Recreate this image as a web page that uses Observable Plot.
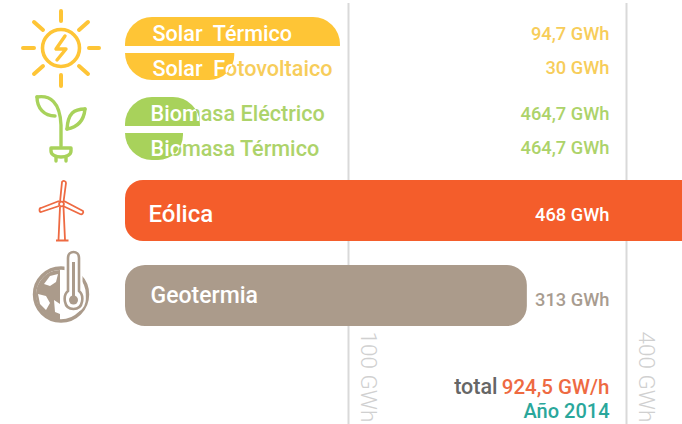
<!DOCTYPE html>
<html><head><meta charset="utf-8">
<script src="https://cdn.jsdelivr.net/npm/d3@7"></script>
<script src="https://cdn.jsdelivr.net/npm/@observablehq/plot@0.6"></script>
<style>html,body{margin:0;background:#fff}svg{display:block}</style>
</head><body><div id="c"></div><script>
const names = ["Solar  Térmico","Solar  Fotovoltaico","Biomasa Eléctrico","Biomasa Térmico","Eólica","Geotermia"];
const groups = ["solar","solar","bio","bio","eolica","geo"];
const valueLabels = ["94,7 GWh","30 GWh","464,7 GWh","464,7 GWh","468 GWh","313 GWh"];
// bar lengths as drawn in the picture, in GWh on the axis scale
const drawnGWh = [96.4,49,33.6,26,468,293];
const ticks = [100,400];
const tickLabels = ["100 GWh","400 GWh"];
const total = "924,5 GW/h";
const year = "Año 2014";

const rows = names.map((name,i)=>({i,name,group:groups[i],label:valueLabels[i],v:drawnGWh[i]}));
const barColor = {solar:"#fec536",bio:"#a8d25b",eolica:"#f45d2b",geo:"#ab9b8b"};
const labelColor = {solar:"#f7cd5a",bio:"#add36a",eolica:"#ffffff",geo:"#a89c90"};
const nameDx = {solar:27,bio:25};
const font = "Roboto, sans-serif";
const base = {x1:()=>0,x2:d=>d.v,y1:d=>d.i,y2:d=>d.i+0.5,fill:d=>d.group};
const pick = f=>rows.filter(f);

const icons = () => {
  const g = document.createElementNS("http://www.w3.org/2000/svg","g");
  g.innerHTML = `
  <g fill="none" stroke="#fec536" stroke-width="4" stroke-linecap="round">
    <circle cx="61" cy="48" r="18.5" stroke-width="3.6"/>
    <path d="M61 11V21M61 75V86M23 48H34M89 48H99M34 22L43 30M88 22L79 30M34 74L43 66M88 74L79 66"/>
    <path d="M65 36L56 49H66L57 60" stroke-width="3.4" stroke-linejoin="round"/>
  </g>
  <g fill="none" stroke="#a8d25b" stroke-width="3.4" stroke-linecap="round" stroke-linejoin="round">
    <path d="M37 97C50 95 60 102 61 125V146"/><path d="M37 97C37 108 44 116 55 116"/>
    <path d="M85 109C74 109 68 113 67 129"/><path d="M85 109C84 119 79 127 67 129"/>
    <path d="M51 148H71L71 151C71 155 66 157 61 157C56 157 51 155 51 151Z"/>
    <path d="M56 157V161M66 157V161"/>
  </g>
  <g fill="none" stroke="#ee6a42" stroke-width="1.8" stroke-linejoin="round">
    <path d="M60 202L62 182C63 180 66 181 66 183L63.5 202"/>
    <path d="M59 206L41 212C39 212 39 208 41 208L59 201"/>
    <path d="M64 201L83 211C84 213 82 215 80 214L63 206"/>
    <circle cx="61.5" cy="204" r="2.4"/>
    <path d="M60 207L58.5 240M63.5 207L65 240M56 240.5H68.5"/>
  </g>
  <g>
    <circle cx="61" cy="294.5" r="26.5" fill="none" stroke="#ab9b8b" stroke-width="3.4"/>
    <path d="M60 270C46 270 36 282 36 295C36 308 46 319 60 320Z" fill="#ab9b8b"/>
    <path d="M50 276L58 274L56 282L50 286L44 284ZM38 294L46 296L50 303L46 310L40 304ZM54 300L60 304L60 314L55 312Z" fill="#fff"/>
    <path d="M68 258C68 250 79 250 79 258V291C84 295 84 309 73.5 309C63 309 63 295 68 291Z" fill="#fff" stroke="#fff" stroke-width="7"/>
    <path d="M68 258C68 250 79 250 79 258V291C84 295 84 309 73.5 309C63 309 63 295 68 291Z" fill="#fff" stroke="#ab9b8b" stroke-width="2.6"/>
    <circle cx="73.5" cy="300" r="4.5" fill="#ab9b8b"/><path d="M73.5 262V298" stroke="#ab9b8b" stroke-width="3"/>
  </g>`;
  return g;
};

const nameText = (fill, subset) => subset.map(d=>Plot.text([d],{x:()=>0,y:r=>r.i+0.28,text:"name",textAnchor:"start",fill,dx:nameDx[d.group],fontSize:21.6,fontFamily:font,fontWeight:500}));
const stacked = pick(d=>d.i<4);

const chart = Plot.plot({
  width:682,height:424,margin:0,
  style:{background:"#fff",fontFamily:font},
  x:{type:"linear",domain:[0,100,400],range:[125,348,626],axis:null},
  y:{type:"linear",domain:[0,0.5,1,1.5,2,2.5,3,3.5,4,4.5,5,5.5],range:[17,46,53,80,97,126,133,160,180,241,265,326],axis:null},
  color:{domain:Object.keys(barColor),range:Object.values(barColor)},
  marks:[
    Plot.ruleX(ticks,{stroke:"#d9d9d9",strokeWidth:2,insetTop:3}),
    Plot.text(ticks.map((t,i)=>({t,s:tickLabels[i]})),{x:"t",text:"s",frameAnchor:"top",dy:331,dx:28,rotate:90,textAnchor:"start",fill:"#d0d0d0",fontSize:22.5,fontWeight:300,fontFamily:font}),
    ...nameText(d=>labelColor[d.group],stacked),
    Plot.rect(pick(d=>d.i===0||d.i===2),{...base,rx1y1:27,rx2y1:27}),
    Plot.rect(pick(d=>d.i===1||d.i===3),{...base,rx1y2:27,rx2y2:25}),
    Plot.rect(pick(d=>d.i===4),{...base,rx1y1:18,rx1y2:18}),
    Plot.rect(pick(d=>d.i===5),{...base,r:20}),
    ...nameText("#fff",stacked),
    Plot.text(pick(d=>d.i===4),{x:()=>0,y:d=>d.i+0.28,text:"name",textAnchor:"start",fill:"#fff",dx:23,fontSize:24,fontFamily:font,fontWeight:500}),
    Plot.text(pick(d=>d.i===5),{x:()=>0,y:d=>d.i+0.25,text:"name",textAnchor:"start",fill:"#fff",dx:25,fontSize:23,fontFamily:font,fontWeight:500}),
    Plot.text(rows,{y:d=>d.i+0.28,text:"label",frameAnchor:"right",dx:-73,textAnchor:"end",fill:d=>labelColor[d.group],fontSize:18.3,fontFamily:font,fontWeight:500}),
    Plot.text([total],{frameAnchor:"bottom-right",dx:-73,dy:-31,textAnchor:"end",fill:"#ee6a42",fontSize:20.5,fontFamily:font,fontWeight:500}),
    Plot.text(["total"],{frameAnchor:"bottom-right",dx:-185,dy:-31,textAnchor:"end",fill:"#666",fontSize:21.5,fontFamily:font,fontWeight:500}),
    Plot.text([year],{frameAnchor:"bottom-right",dx:-73,dy:-7,textAnchor:"end",fill:"#2aa79b",fontSize:20,fontFamily:font,fontWeight:500}),
    () => icons()
  ]
});
// White names show only where they cross their bar
const svg = d3.select(chart);
const cp = svg.append("defs").append("clipPath").attr("id","barclip");
chart.querySelectorAll('g[aria-label="rect"] > *').forEach(n=>cp.node().appendChild(n.cloneNode(true)));
const texts = chart.querySelectorAll('g[aria-label="text"]');
for (const n of [...texts].slice(5,9)) {
  const wrap = document.createElementNS("http://www.w3.org/2000/svg","g");
  wrap.setAttribute("clip-path","url(#barclip)");
  n.parentNode.insertBefore(wrap,n);
  wrap.appendChild(n);
}
document.getElementById("c").appendChild(chart);
</script></body></html>
